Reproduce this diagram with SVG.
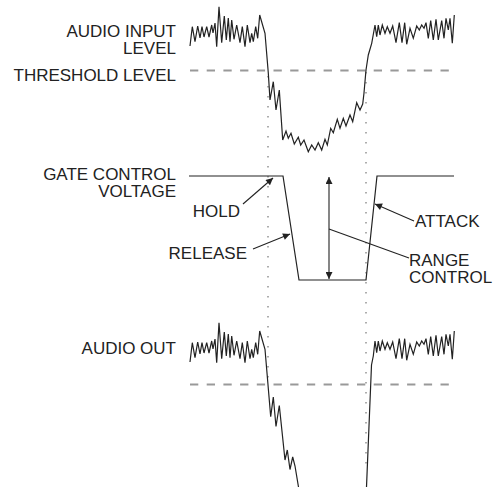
<svg xmlns="http://www.w3.org/2000/svg" width="493" height="487" viewBox="0 0 493 487">
<style>
text{font-family:"Liberation Sans",Arial,sans-serif;font-size:17px;fill:#222}
.r{text-anchor:end}
.w{fill:none;stroke:#222;stroke-width:1.2;stroke-linejoin:miter}
.th{fill:none;stroke:#999;stroke-width:2;stroke-dasharray:8.3 8.4}
.dot{fill:none;stroke:#999;stroke-width:1.6;stroke-dasharray:1.6 8.4}
.ld{fill:none;stroke:#222;stroke-width:1.1}
</style>
<defs>
<marker id="ah" viewBox="0 0 10 10" refX="10" refY="5" markerWidth="9" markerHeight="7" markerUnits="userSpaceOnUse" orient="auto-start-reverse">
<path d="M0,0 L10,5 L0,10 z" fill="#222"/>
</marker>
</defs>
<rect width="493" height="487" fill="#fff"/>

<g id="labels">
<g id="audio-input-label"><text class="r" x="176" y="36.5">AUDIO INPUT</text><text class="r" x="176" y="54">LEVEL</text></g>
<g id="threshold-label"><text class="r" x="176" y="81">THRESHOLD LEVEL</text></g>
<g id="gate-label"><text class="r" x="176" y="179.8">GATE CONTROL</text><text class="r" x="176" y="197.3">VOLTAGE</text></g>
<g id="hold-label"><text class="r" x="240" y="216.5">HOLD</text></g>
<g id="release-label"><text class="r" x="247" y="259">RELEASE</text></g>
<g id="attack-label"><text x="415" y="226.5">ATTACK</text></g>
<g id="range-label"><text x="409" y="265.5">RANGE</text><text x="409" y="283">CONTROL</text></g>
<g id="audio-out-label"><text class="r" x="176" y="354">AUDIO OUT</text></g>
</g>

<g id="reference-lines">
<line class="th" x1="190" y1="70.5" x2="449" y2="70.5"/>
<line class="th" x1="190" y1="384.5" x2="449" y2="384.5"/>
<line class="dot" x1="268" y1="76" x2="268" y2="378"/>
<line class="dot" x1="366" y1="72" x2="366" y2="472"/>
</g>

<g id="audio-input-wave">
<polyline class="w" points="190,46 192.3,26.7 195,41.7 197.7,26 200,38 202,26.7 204,37 206.7,26.7 209,37 211.7,25 213,33 215,23 216.7,46.7 219,6.7 221.7,42.7 224.3,16 226.3,40 228.3,18 230,41.7 231.7,20 234,39.3 236.7,25 240,42.7 242.3,26.7 245,46.7 247.3,25 250,42.7 251.7,33.3 253.3,41.7 255.7,26.7 257.7,38.3 259.7,15 265,33.3 268.3,73 270,100 273.3,81.7 276,110 279.3,90 282.7,140 286,131 288.3,138.3 291,133.3 294.3,144 298.3,137.3 300.7,145 304,140 308.3,151.7 311.7,145 315,150 318.3,142.7 321.7,150 325,139.3 327.3,145 330.7,128.3 333.3,132.7 337.3,119.3 340,128.3 343.3,118.3 346,126 350,115 352.7,121.7 356.7,102.7 360,110 362.7,104 364,93 366,70 368.3,55 371.7,43.3 375,25 376.7,36.7 378.3,25 380,35 382.3,25 385,33.3 387.3,26.7 390,33.3 392.7,26 396,42.7 399.3,22.7 402,42.7 404.7,22.7 406.7,44.3 410,28.3 413.3,38.3 416.7,26 419.3,30 421.7,25 424,28.3 426,22.7 428.3,38.3 430.7,20.7 433.3,40 436,19.3 438.3,40 441.7,20.7 444,38.3 446,18.3 448.3,30 450,18.3 452.3,43.3 454.3,15"/>
</g>

<g id="gate-control-wave">
<polyline class="w" points="189,176 283,176 299,280 366,280 377,176 454,176"/>
</g>

<g id="audio-out-wave">
<polyline class="w" points="190,362 192.3,342.7 195,357.7 197.7,342 200,354 202,342.7 204,353 206.7,342.7 209,353 211.7,341 213,349 215,339 216.7,362.7 219,322.7 221.7,358.7 224.3,332 226.3,356 228.3,334 230,357.7 231.7,336 234,355.3 236.7,341 240,358.7 242.3,342.7 245,362.7 247.3,341 250,358.7 251.7,349.3 253.3,357.7 255.7,342.7 257.7,354.3 259.7,331 265,349.3 270.7,416.7 273.3,397 276,426.5 279.3,405.5 285,460 287.3,450 290,469.5 292.7,457 295,466 298.5,487"/>
<polyline class="w" points="366.5,487 371.5,365 373.3,356 375,341 376.7,352.7 378.3,341 380,351 382.3,341 385,349.3 387.3,342.7 390,349.3 392.7,342 396,358.7 399.3,338.7 402,358.7 404.7,338.7 406.7,360.3 410,344.3 413.3,354.3 416.7,342 419.3,346 421.7,341 424,344.3 426,338.7 428.3,354.3 430.7,336.7 433.3,356 436,335.3 438.3,356 441.7,336.7 444,354.3 446,334.3 448.3,346 450,334.3 452.3,359.3 454.3,331"/>
</g>

<g id="connectors">
<line class="ld" x1="243" y1="204" x2="273" y2="178" marker-end="url(#ah)"/>
<line class="ld" x1="253" y1="249" x2="290" y2="234" marker-end="url(#ah)"/>
<line class="ld" x1="414" y1="221" x2="375" y2="204" marker-end="url(#ah)"/>
<line class="ld" x1="329" y1="177" x2="329" y2="279" marker-start="url(#ah)" marker-end="url(#ah)"/>
<line class="ld" x1="329" y1="229" x2="409" y2="258"/>
</g>
</svg>
